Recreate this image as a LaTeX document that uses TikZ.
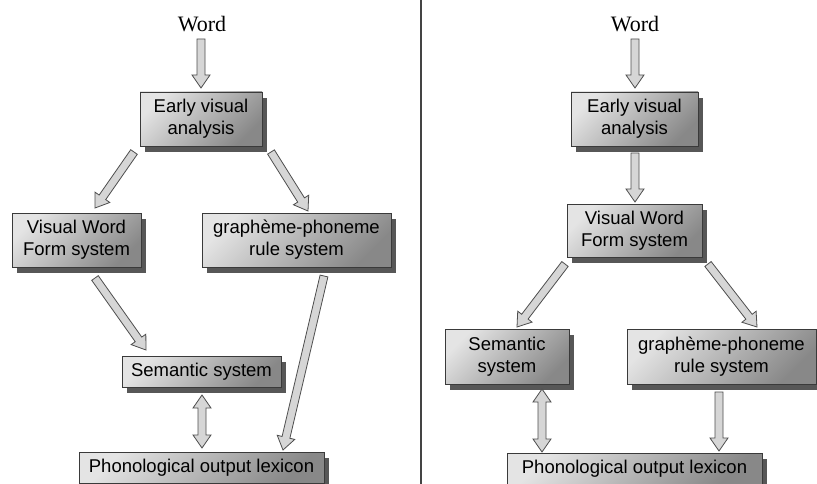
\documentclass[tikz,border=0pt]{standalone}
\usepackage{fontspec}
\setmainfont{Liberation Sans}
\newfontfamily\wordfont{Liberation Serif}
\usetikzlibrary{calc,shadows}
\definecolor{boxtop}{HTML}{E4E4E4}
\definecolor{boxbot}{HTML}{888888}
\definecolor{shadowc}{HTML}{575757}
\definecolor{edgec}{HTML}{3A3A3A}
\definecolor{arrfill}{HTML}{D6D6D6}
\definecolor{arredge}{HTML}{4E4E4E}
\definecolor{divc}{HTML}{444444}
\newcommand\blockarr[2]{%
  \coordinate (tmph) at ($(#2)!13pt!(#1)$);
  \draw[arrstyle] ($(#1)!4pt!90:(#2)$) -- ($(tmph)!4pt!-90:(#1)$) -- ($(tmph)!9pt!-90:(#1)$) -- (#2) -- ($(tmph)!9pt!90:(#1)$) -- ($(tmph)!4pt!90:(#1)$) -- ($(#1)!4pt!-90:(#2)$) -- cycle;}
\newcommand\dblarr[2]{%
  \coordinate (tmpa) at ($(#1)!13pt!(#2)$);
  \coordinate (tmpb) at ($(#2)!13pt!(#1)$);
  \draw[arrstyle] (#1) -- ($(tmpa)!9pt!90:(#2)$) -- ($(tmpa)!4pt!90:(#2)$) -- ($(tmpb)!4pt!-90:(#1)$) -- ($(tmpb)!9pt!-90:(#1)$) -- (#2) -- ($(tmpb)!9pt!90:(#1)$) -- ($(tmpb)!4pt!90:(#1)$) -- ($(tmpa)!4pt!-90:(#2)$) -- ($(tmpa)!9pt!-90:(#2)$) -- cycle;}
\tikzset{
  arrstyle/.style={fill=arrfill, draw=arredge, line width=0.8pt, line join=miter},
  procbox/.style={draw=edgec, line width=0.8pt, top color=boxtop, bottom color=boxbot, shading angle=45,
    drop shadow={shadow xshift=5pt, shadow yshift=-6pt, fill=shadowc, opacity=1},
    align=center, font=\fontsize{18.5}{22}\selectfont, inner sep=0pt},
  wordlbl/.style={font=\wordfont\fontsize{22}{24}\selectfont, inner sep=0pt}
}
\begin{document}
\begin{tikzpicture}[x=1pt,y=-1pt]
\useasboundingbox[fill=white] (0,0) rectangle (817,484);
% divider
\draw[divc, line width=1.4pt] (421,0) coordinate (d1) -- (421,484) coordinate (d2);
% ---------- left panel ----------
\node[wordlbl] (w1) at (202,24) {Word};
\node[procbox, minimum width=122pt, minimum height=54pt] (eva) at (201,119) {Early visual\\analysis};
\node[procbox, minimum width=129pt, minimum height=54pt] (vwf) at (76.5,240) {Visual Word\\Form system};
\node[procbox, minimum width=189pt, minimum height=54pt] (gp) at (296.5,240) {graphème-phoneme\\rule system};
\node[procbox, minimum width=159pt, minimum height=31pt] (sem) at (201.5,371.5) {Semantic system};
\node[procbox, minimum width=245pt, minimum height=31pt] (pol) at (201.5,467.5) {Phonological output lexicon};
\coordinate (l1s) at (201,39);  \coordinate (l1e) at (201,88);
\coordinate (l2s) at (134,152); \coordinate (l2e) at (95,208);
\coordinate (l3s) at (271,152); \coordinate (l3e) at (308,211);
\coordinate (l4s) at (95,278);  \coordinate (l4e) at (146,350);
\coordinate (l5s) at (324,276); \coordinate (l5e) at (283,450);
\coordinate (l6s) at (202,395); \coordinate (l6e) at (202,448);
\blockarr{l1s}{l1e}
\blockarr{l2s}{l2e}
\blockarr{l3s}{l3e}
\blockarr{l4s}{l4e}
\blockarr{l5s}{l5e}
\dblarr{l6s}{l6e}
% ---------- right panel ----------
\node[wordlbl] (w2) at (635,24) {Word};
\node[procbox, minimum width=127pt, minimum height=54pt] (eva2) at (634.5,119) {Early visual\\analysis};
\node[procbox, minimum width=135pt, minimum height=53pt] (vwf2) at (634.5,230.5) {Visual Word\\Form system};
\node[procbox, minimum width=124pt, minimum height=55pt] (sem2) at (507,356.5) {Semantic\\system};
\node[procbox, minimum width=189pt, minimum height=55pt] (gp2) at (721.5,356.5) {graphème-phoneme\\rule system};
\node[procbox, minimum width=255pt, minimum height=31pt] (pol2) at (634.5,468.5) {Phonological output lexicon};
\coordinate (r1s) at (635,39);  \coordinate (r1e) at (635,88);
\coordinate (r2s) at (635,153); \coordinate (r2e) at (635,202);
\coordinate (r3s) at (565,264); \coordinate (r3e) at (517,327);
\coordinate (r4s) at (708,264); \coordinate (r4e) at (757,327);
\coordinate (r5s) at (542,389); \coordinate (r5e) at (542,452);
\coordinate (r6s) at (719,392); \coordinate (r6e) at (719,451);
\blockarr{r1s}{r1e}
\blockarr{r2s}{r2e}
\blockarr{r3s}{r3e}
\blockarr{r4s}{r4e}
\dblarr{r5s}{r5e}
\blockarr{r6s}{r6e}
\end{tikzpicture}
\end{document}
